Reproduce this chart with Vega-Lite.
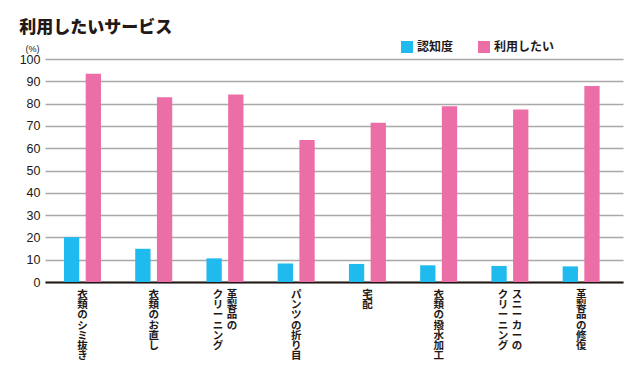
{
  "$schema": "https://vega.github.io/schema/vega-lite/v6.json",
  "width": 578,
  "height": 223,
  "autosize": {"type": "none"},
  "padding": {"left": 45, "top": 59, "right": 17, "bottom": 94},
  "background": "white",
  "title": {
    "text": "利用したいサービス",
    "anchor": "start",
    "font": "Noto Sans CJK JP",
    "fontSize": 17,
    "fontWeight": 900,
    "color": "#231815",
    "offset": 4
  },
  "config": {
    "view": {"stroke": null},
    "axis": {"labelFont": "Liberation Sans", "titleFont": "Liberation Sans"}
  },
  "layer": [
    {
      "data": {
        "values": [
          {"cat": "衣類のシミ抜き", "series": "認知度", "value": 20.1},
          {"cat": "衣類のシミ抜き", "series": "利用したい", "value": 93.4},
          {"cat": "衣類のお直し", "series": "認知度", "value": 14.9},
          {"cat": "衣類のお直し", "series": "利用したい", "value": 82.8},
          {"cat": "革製品のクリーニング", "series": "認知度", "value": 10.6},
          {"cat": "革製品のクリーニング", "series": "利用したい", "value": 84.1},
          {"cat": "パンツの折り目", "series": "認知度", "value": 8.3},
          {"cat": "パンツの折り目", "series": "利用したい", "value": 63.7},
          {"cat": "宅配", "series": "認知度", "value": 8.1},
          {"cat": "宅配", "series": "利用したい", "value": 71.4},
          {"cat": "衣類の撥水加工", "series": "認知度", "value": 7.5},
          {"cat": "衣類の撥水加工", "series": "利用したい", "value": 78.8},
          {"cat": "スニーカーのクリーニング", "series": "認知度", "value": 7.2},
          {"cat": "スニーカーのクリーニング", "series": "利用したい", "value": 77.4},
          {"cat": "革製品の修復", "series": "認知度", "value": 7.0},
          {"cat": "革製品の修復", "series": "利用したい", "value": 87.9}
        ]
      },
      "mark": {"type": "bar"},
      "encoding": {
        "x": {
          "field": "cat",
          "type": "nominal",
          "scale": {
            "domain": ["衣類のシミ抜き", "衣類のお直し", "革製品のクリーニング", "パンツの折り目", "宅配", "衣類の撥水加工", "スニーカーのクリーニング", "革製品の修復"],
            "paddingInner": 0,
            "paddingOuter": 0.057,
            "align": 0.23
          },
          "axis": {
            "title": null,
            "labels": false,
            "ticks": false,
            "grid": false,
            "domain": true,
            "domainColor": "#231815",
            "domainWidth": 2
          }
        },
        "xOffset": {
          "field": "series",
          "type": "nominal",
          "scale": {"domain": ["認知度", "利用したい"], "paddingInner": 0.295, "paddingOuter": 0.789}
        },
        "y": {
          "field": "value",
          "type": "quantitative",
          "scale": {"domain": [0, 100], "nice": false},
          "axis": {
            "tickCount": 10,
            "grid": true,
            "labelOverlap": false,
            "labelFontSize": 12.5,
            "labelColor": "#231815",
            "labelPadding": 5,
            "domain": false,
            "ticks": false,
            "gridColor": "#a9a9a9",
            "gridWidth": 1.3,
            "title": "(%)",
            "titleAngle": 0,
            "titleFontSize": 9,
            "titleFontWeight": "normal",
            "titleColor": "#231815",
            "titleAlign": "center",
            "titleBaseline": "middle",
            "titleX": -13,
            "titleY": -11
          }
        },
        "color": {
          "field": "series",
          "type": "nominal",
          "scale": {"domain": ["認知度", "利用したい"], "range": ["#1FBAEE", "#EC6EA6"]},
          "legend": {
            "title": null,
            "orient": "none",
            "legendX": 356,
            "legendY": -18,
            "direction": "horizontal",
            "symbolType": "square",
            "symbolSize": 144,
            "symbolStrokeWidth": 0,
            "symbolOpacity": 1,
            "labelFont": "Noto Sans CJK JP",
            "labelFontSize": 12,
            "labelFontWeight": "bold",
            "labelColor": "#231815",
            "labelOffset": 4,
            "columnPadding": 24
          }
        }
      }
    },
    {
      "data": {
        "values": [
          {"cat": "衣類のシミ抜き", "chars": ["衣", "類", "の", "シ", "ミ", "抜", "き"]},
          {"cat": "衣類のお直し", "chars": ["衣", "類", "の", "お", "直", "し"]},
          {"cat": "パンツの折り目", "chars": ["パ", "ン", "ツ", "の", "折", "り", "目"]},
          {"cat": "宅配", "chars": ["宅", "配"]},
          {"cat": "衣類の撥水加工", "chars": ["衣", "類", "の", "撥", "水", "加", "工"]},
          {"cat": "革製品の修復", "chars": ["革", "製", "品", "の", "修", "復"]}
        ]
      },
      "mark": {"type": "text", "y": "height", "font": "Noto Sans CJK JP", "fontWeight": "bold", "fontSize": 10.5, "lineHeight": 10.2, "baseline": "top", "align": "center", "dy": 8, "color": "#231815"},
      "encoding": {
        "x": {"field": "cat", "type": "nominal"},
        "text": {"field": "chars", "type": "nominal"}
      }
    },
    {
      "data": {
        "values": [
          {"cat": "革製品のクリーニング", "chars": ["革", "製", "品", "の"]},
          {"cat": "スニーカーのクリーニング", "chars": ["ス", "ニ", "ー", "カ", "ー", "の"]}
        ]
      },
      "mark": {"type": "text", "y": "height", "font": "Noto Sans CJK JP", "fontWeight": "bold", "fontSize": 10.5, "lineHeight": 10.2, "baseline": "top", "align": "center", "dy": 8, "dx": 7, "color": "#231815"},
      "encoding": {
        "x": {"field": "cat", "type": "nominal"},
        "text": {"field": "chars", "type": "nominal"}
      }
    },
    {
      "data": {
        "values": [
          {"cat": "革製品のクリーニング", "chars": ["ク", "リ", "ー", "ニ", "ン", "グ"]},
          {"cat": "スニーカーのクリーニング", "chars": ["ク", "リ", "ー", "ニ", "ン", "グ"]}
        ]
      },
      "mark": {"type": "text", "y": "height", "font": "Noto Sans CJK JP", "fontWeight": "bold", "fontSize": 10.5, "lineHeight": 10.2, "baseline": "top", "align": "center", "dy": 8, "dx": -7, "color": "#231815"},
      "encoding": {
        "x": {"field": "cat", "type": "nominal"},
        "text": {"field": "chars", "type": "nominal"}
      }
    }
  ]
}
